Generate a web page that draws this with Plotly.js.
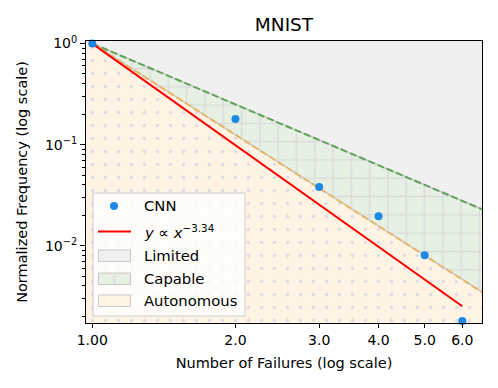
<!DOCTYPE html>
<html>
<head>
<meta charset="utf-8">
<script src="https://cdn.plot.ly/plotly-3.0.1.min.js"></script>
<style>
  html, body { margin: 0; padding: 0; background: #fff; }
  #chart { width: 498px; height: 388px; }
</style>
</head>
<body>
<div id="chart"></div>
<script>
// observed CNN failure frequencies
const failures = [1, 2, 3, 4, 5, 6]
const cnnFrequency = [1.0, 0.179, 0.038, 0.0196, 0.00805, 0.0018]

// power-law exponents: fitted line and region boundaries
const fitExponent = -3.34
const capableExponent = -2
const autonomousExponent = -3

const xTickVals = [1, 2, 3, 4, 5, 6]
const xTickText = ['1.00', '2.0', '3.0', '4.0', '5.0', '6.0']
const yTickVals = [0.01, 0.1, 1]
const yTickText = ['10<sup>−2</sup>', '10<sup>−1</sup>', '10<sup>0</sup>']

const legendLabels = ['CNN', '<i>y</i> ∝ <i>x</i><sup>−3.34</sup>', 'Limited', 'Capable', 'Autonomous']

const xView = [0.97, 6.6]
const yView = [0.00172, 1.06]

// polygon extents reach past the view so only the boundaries show
const xLo = 0.9, xHi = 8, yLo = 0.001, yHi = 2

const yMinor = []
;[0.001, 0.01, 0.1].forEach(d => {
  for (let m = 2; m <= 9; m++) yMinor.push(d * m)
})

const pw = (x, e) => Math.pow(x, e)
const fitX = [failures[0], failures[failures.length - 1]]
const bX = [1, xHi]

const colors = {
  cnn: '#1e88e5', fit: '#ff0000',
  limited: '#f0f0f0', capable: '#e6f0e3', autonomous: '#fff4e4',
  capableLine: '#5fa35a', autonomousLine: '#e8b466',
  edge: '#c8c8c8', hatch: '#dcdcdc', dots: '#dcdce4'
}

const data = [
  {
    x: [1, xHi, xHi, 1],
    y: [1, pw(xHi, capableExponent), yHi, yHi],
    fill: 'toself', fillcolor: colors.limited,
    mode: 'lines', line: { color: colors.edge, width: 1.2 },
    showlegend: false, hoverinfo: 'skip'
  },
  {
    x: [1, xHi, xHi, 1],
    y: [1, pw(xHi, capableExponent), pw(xHi, autonomousExponent), 1],
    fill: 'toself', fillcolor: colors.capable,
    fillpattern: { shape: '+', bgcolor: colors.capable, fgcolor: colors.hatch, size: 18.3, solidity: 0.16 },
    mode: 'lines', line: { color: colors.edge, width: 1.2 },
    showlegend: false, hoverinfo: 'skip'
  },
  {
    x: [1, xHi, xHi, xLo, xLo, 1],
    y: [1, pw(xHi, autonomousExponent), yLo, yLo, yHi, yHi],
    fill: 'toself', fillcolor: colors.autonomous,
    fillpattern: { shape: '.', bgcolor: colors.autonomous, fgcolor: colors.dots, size: 13, solidity: 0.05 },
    mode: 'lines', line: { color: colors.edge, width: 1.2 },
    showlegend: false, hoverinfo: 'skip'
  },
  {
    x: bX, y: bX.map(x => pw(x, capableExponent)),
    mode: 'lines', line: { color: colors.capableLine, width: 2, dash: '7px,3px' },
    showlegend: false, hoverinfo: 'skip'
  },
  {
    x: bX, y: bX.map(x => pw(x, autonomousExponent)),
    mode: 'lines', line: { color: colors.autonomousLine, width: 2, dash: '7px,3px' },
    showlegend: false, hoverinfo: 'skip'
  },
  {
    x: fitX, y: fitX.map(x => pw(x, fitExponent)),
    mode: 'lines', line: { color: colors.fit, width: 2 },
    showlegend: false
  },
  {
    x: failures, y: cnnFrequency,
    mode: 'markers', marker: { color: colors.cnn, size: 8 },
    cliponaxis: false, showlegend: false
  }
]

// legend drawn by hand so patches look like matplotlib's
const W = 498, H = 388
const M = { l: 86, r: 16, t: 41, b: 65 }
const px = v => (v - M.l) / (W - M.l - M.r)
const py = v => (H - M.b - v) / (H - M.t - M.b)

const shapes = [
  { type: 'rect', xref: 'paper', yref: 'paper', x0: px(93), x1: px(245), y0: py(193), y1: py(316),
    fillcolor: 'rgba(255,255,255,0.8)', line: { color: '#cccccc', width: 1 } },
  { type: 'circle', xref: 'paper', yref: 'paper', x0: px(110), x1: px(118), y0: py(202), y1: py(210),
    fillcolor: colors.cnn, line: { width: 0 } },
  { type: 'line', xref: 'paper', yref: 'paper', x0: px(98), x1: px(131), y0: py(231.5), y1: py(231.5),
    line: { color: colors.fit, width: 2 } }
]
const patchTop = [250, 273, 295]
const patchFill = [colors.limited, colors.capable, colors.autonomous]
patchTop.forEach((t, i) => {
  shapes.push({ type: 'rect', xref: 'paper', yref: 'paper', x0: px(98.5), x1: px(130.5), y0: py(t), y1: py(t + 11.5),
    fillcolor: patchFill[i], line: { color: colors.edge, width: 1 } })
})
shapes.push({ type: 'line', xref: 'paper', yref: 'paper', x0: px(114.5), x1: px(114.5), y0: py(273.5), y1: py(284),
  line: { color: colors.hatch, width: 1.5 } })

const legendY = [205, 231, 255.5, 278.5, 300.5]
const annotations = legendLabels.map((t, i) => ({
  text: t, xref: 'paper', yref: 'paper', x: px(142), y: py(legendY[i]),
  xanchor: 'left', yanchor: 'middle', showarrow: false,
  font: { family: 'DejaVu Sans', size: 14.8, color: '#000' }
}))

const tickFont = { family: 'DejaVu Sans', size: 14, color: '#000' }
const axisFont = { family: 'DejaVu Sans', size: 14.5, color: '#000' }

const layout = {
  width: W, height: H,
  margin: M,
  paper_bgcolor: '#fff', plot_bgcolor: '#fff',
  font: tickFont,
  title: {
    text: 'MNIST', x: 0.5, xref: 'paper',
    y: 1 - 25 / H, yref: 'container', yanchor: 'middle',
    font: { family: 'DejaVu Sans', size: 18.5, color: '#000' }
  },
  xaxis: {
    type: 'log', range: xView.map(Math.log10),
    tickmode: 'array', tickvals: xTickVals, ticktext: xTickText,
    ticks: 'outside', ticklen: 4, tickwidth: 1, tickcolor: '#000',
    tickfont: tickFont,
    showline: true, mirror: true, linecolor: '#000', linewidth: 1,
    showgrid: false, zeroline: false,
    title: { text: 'Number of Failures (log scale)', font: axisFont, standoff: 11 }
  },
  yaxis: {
    type: 'log', range: yView.map(Math.log10),
    tickmode: 'array', tickvals: yTickVals, ticktext: yTickText,
    ticks: 'outside', ticklen: 5, tickwidth: 1, tickcolor: '#000',
    tickfont: tickFont,
    minor: { tickmode: 'array', tickvals: yMinor, ticks: 'outside', ticklen: 3, tickwidth: 1, tickcolor: '#000', showgrid: false },
    showline: true, mirror: true, linecolor: '#000', linewidth: 1,
    showgrid: false, zeroline: false,
    title: { text: 'Normalized Frequency (log scale)', font: axisFont, standoff: 13 }
  },
  showlegend: false,
  shapes,
  annotations
}

Plotly.newPlot('chart', data, layout, { staticPlot: true, displayModeBar: false })
</script>
</body>
</html>
